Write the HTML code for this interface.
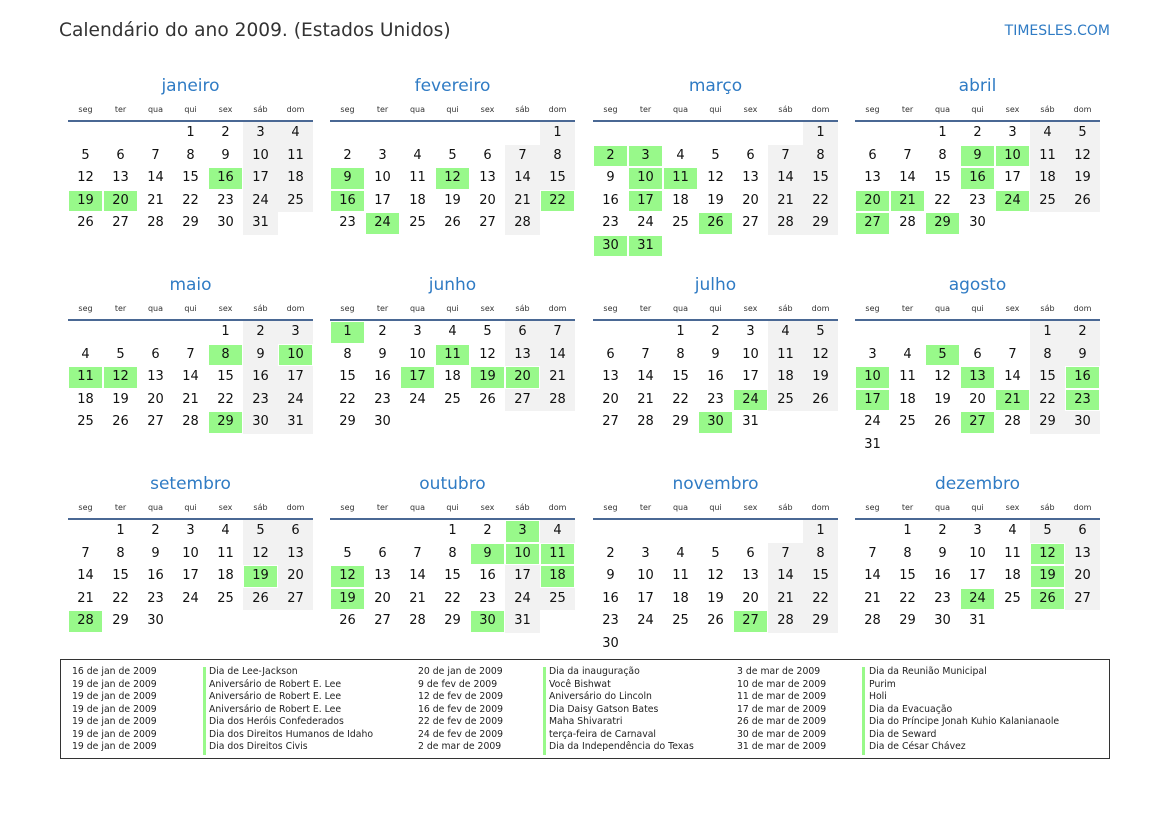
<!DOCTYPE html>
<html><head><meta charset="utf-8"><style>
body{margin:0;width:1169px;height:827px;background:#fff;font-family:"DejaVu Sans","Liberation Sans",sans-serif;position:relative;overflow:hidden}
.t{position:absolute;left:59px;top:20px;font-size:18.6px;color:#333}
.s{position:absolute;right:59px;top:23px;font-size:14px;color:#2f7bc4}
.m{position:absolute;width:245px}
.m h2{margin:0;height:26px;line-height:26px;text-align:center;font-weight:normal;font-size:17px;color:#2f7bc4}
.m .wd{display:flex;height:18px;line-height:18px;margin-top:2px;font-size:8px;color:#333}
.m .wd span{width:35px;text-align:center}
.m .ln{height:2px;background:#4a6894;margin-top:1px}
table{border-collapse:separate;border-spacing:0;table-layout:fixed;width:245px}
td{width:35px;height:22.5px;padding:0;text-align:center;font-size:13px;color:#111;line-height:22px}
td.w{background:#f2f2f2}
td.h{background:#98f98a;box-shadow:inset 0 0 0 1px #fff}
.lg{position:absolute;left:60px;top:659px;width:1048px;height:98px;border:1px solid #333}
.c{position:absolute;font-size:9.3px;color:#222;line-height:12.5px;top:6px;white-space:nowrap}
.b{position:absolute;top:7px;width:3px;background:#98f98a}
.b i{display:block;height:10.5px;margin-bottom:2px;background:#98f98a}
</style></head><body>
<div class="t">Calendário do ano 2009. (Estados Unidos)</div>
<div class="s">TIMESLES.COM</div>

<div class="m" style="left:68px;top:73px"><h2>janeiro</h2><div class="wd"><span>seg</span><span>ter</span><span>qua</span><span>qui</span><span>sex</span><span>sáb</span><span>dom</span></div><div class="ln"></div><table>
<tr><td></td><td></td><td></td><td>1</td><td>2</td><td class="w">3</td><td class="w">4</td></tr>
<tr><td>5</td><td>6</td><td>7</td><td>8</td><td>9</td><td class="w">10</td><td class="w">11</td></tr>
<tr><td>12</td><td>13</td><td>14</td><td>15</td><td class="h">16</td><td class="w">17</td><td class="w">18</td></tr>
<tr><td class="h">19</td><td class="h">20</td><td>21</td><td>22</td><td>23</td><td class="w">24</td><td class="w">25</td></tr>
<tr><td>26</td><td>27</td><td>28</td><td>29</td><td>30</td><td class="w">31</td><td></td></tr>
</table></div>

<div class="m" style="left:330px;top:73px"><h2>fevereiro</h2><div class="wd"><span>seg</span><span>ter</span><span>qua</span><span>qui</span><span>sex</span><span>sáb</span><span>dom</span></div><div class="ln"></div><table>
<tr><td></td><td></td><td></td><td></td><td></td><td></td><td class="w">1</td></tr>
<tr><td>2</td><td>3</td><td>4</td><td>5</td><td>6</td><td class="w">7</td><td class="w">8</td></tr>
<tr><td class="h">9</td><td>10</td><td>11</td><td class="h">12</td><td>13</td><td class="w">14</td><td class="w">15</td></tr>
<tr><td class="h">16</td><td>17</td><td>18</td><td>19</td><td>20</td><td class="w">21</td><td class="h">22</td></tr>
<tr><td>23</td><td class="h">24</td><td>25</td><td>26</td><td>27</td><td class="w">28</td><td></td></tr>
</table></div>

<div class="m" style="left:593px;top:73px"><h2>março</h2><div class="wd"><span>seg</span><span>ter</span><span>qua</span><span>qui</span><span>sex</span><span>sáb</span><span>dom</span></div><div class="ln"></div><table>
<tr><td></td><td></td><td></td><td></td><td></td><td></td><td class="w">1</td></tr>
<tr><td class="h">2</td><td class="h">3</td><td>4</td><td>5</td><td>6</td><td class="w">7</td><td class="w">8</td></tr>
<tr><td>9</td><td class="h">10</td><td class="h">11</td><td>12</td><td>13</td><td class="w">14</td><td class="w">15</td></tr>
<tr><td>16</td><td class="h">17</td><td>18</td><td>19</td><td>20</td><td class="w">21</td><td class="w">22</td></tr>
<tr><td>23</td><td>24</td><td>25</td><td class="h">26</td><td>27</td><td class="w">28</td><td class="w">29</td></tr>
<tr><td class="h">30</td><td class="h">31</td><td></td><td></td><td></td><td></td><td></td></tr>
</table></div>

<div class="m" style="left:855px;top:73px"><h2>abril</h2><div class="wd"><span>seg</span><span>ter</span><span>qua</span><span>qui</span><span>sex</span><span>sáb</span><span>dom</span></div><div class="ln"></div><table>
<tr><td></td><td></td><td>1</td><td>2</td><td>3</td><td class="w">4</td><td class="w">5</td></tr>
<tr><td>6</td><td>7</td><td>8</td><td class="h">9</td><td class="h">10</td><td class="w">11</td><td class="w">12</td></tr>
<tr><td>13</td><td>14</td><td>15</td><td class="h">16</td><td>17</td><td class="w">18</td><td class="w">19</td></tr>
<tr><td class="h">20</td><td class="h">21</td><td>22</td><td>23</td><td class="h">24</td><td class="w">25</td><td class="w">26</td></tr>
<tr><td class="h">27</td><td>28</td><td class="h">29</td><td>30</td><td></td><td></td><td></td></tr>
</table></div>

<div class="m" style="left:68px;top:272px"><h2>maio</h2><div class="wd"><span>seg</span><span>ter</span><span>qua</span><span>qui</span><span>sex</span><span>sáb</span><span>dom</span></div><div class="ln"></div><table>
<tr><td></td><td></td><td></td><td></td><td>1</td><td class="w">2</td><td class="w">3</td></tr>
<tr><td>4</td><td>5</td><td>6</td><td>7</td><td class="h">8</td><td class="w">9</td><td class="h">10</td></tr>
<tr><td class="h">11</td><td class="h">12</td><td>13</td><td>14</td><td>15</td><td class="w">16</td><td class="w">17</td></tr>
<tr><td>18</td><td>19</td><td>20</td><td>21</td><td>22</td><td class="w">23</td><td class="w">24</td></tr>
<tr><td>25</td><td>26</td><td>27</td><td>28</td><td class="h">29</td><td class="w">30</td><td class="w">31</td></tr>
</table></div>

<div class="m" style="left:330px;top:272px"><h2>junho</h2><div class="wd"><span>seg</span><span>ter</span><span>qua</span><span>qui</span><span>sex</span><span>sáb</span><span>dom</span></div><div class="ln"></div><table>
<tr><td class="h">1</td><td>2</td><td>3</td><td>4</td><td>5</td><td class="w">6</td><td class="w">7</td></tr>
<tr><td>8</td><td>9</td><td>10</td><td class="h">11</td><td>12</td><td class="w">13</td><td class="w">14</td></tr>
<tr><td>15</td><td>16</td><td class="h">17</td><td>18</td><td class="h">19</td><td class="h">20</td><td class="w">21</td></tr>
<tr><td>22</td><td>23</td><td>24</td><td>25</td><td>26</td><td class="w">27</td><td class="w">28</td></tr>
<tr><td>29</td><td>30</td><td></td><td></td><td></td><td></td><td></td></tr>
</table></div>

<div class="m" style="left:593px;top:272px"><h2>julho</h2><div class="wd"><span>seg</span><span>ter</span><span>qua</span><span>qui</span><span>sex</span><span>sáb</span><span>dom</span></div><div class="ln"></div><table>
<tr><td></td><td></td><td>1</td><td>2</td><td>3</td><td class="w">4</td><td class="w">5</td></tr>
<tr><td>6</td><td>7</td><td>8</td><td>9</td><td>10</td><td class="w">11</td><td class="w">12</td></tr>
<tr><td>13</td><td>14</td><td>15</td><td>16</td><td>17</td><td class="w">18</td><td class="w">19</td></tr>
<tr><td>20</td><td>21</td><td>22</td><td>23</td><td class="h">24</td><td class="w">25</td><td class="w">26</td></tr>
<tr><td>27</td><td>28</td><td>29</td><td class="h">30</td><td>31</td><td></td><td></td></tr>
</table></div>

<div class="m" style="left:855px;top:272px"><h2>agosto</h2><div class="wd"><span>seg</span><span>ter</span><span>qua</span><span>qui</span><span>sex</span><span>sáb</span><span>dom</span></div><div class="ln"></div><table>
<tr><td></td><td></td><td></td><td></td><td></td><td class="w">1</td><td class="w">2</td></tr>
<tr><td>3</td><td>4</td><td class="h">5</td><td>6</td><td>7</td><td class="w">8</td><td class="w">9</td></tr>
<tr><td class="h">10</td><td>11</td><td>12</td><td class="h">13</td><td>14</td><td class="w">15</td><td class="h">16</td></tr>
<tr><td class="h">17</td><td>18</td><td>19</td><td>20</td><td class="h">21</td><td class="w">22</td><td class="h">23</td></tr>
<tr><td>24</td><td>25</td><td>26</td><td class="h">27</td><td>28</td><td class="w">29</td><td class="w">30</td></tr>
<tr><td>31</td><td></td><td></td><td></td><td></td><td></td><td></td></tr>
</table></div>

<div class="m" style="left:68px;top:471px"><h2>setembro</h2><div class="wd"><span>seg</span><span>ter</span><span>qua</span><span>qui</span><span>sex</span><span>sáb</span><span>dom</span></div><div class="ln"></div><table>
<tr><td></td><td>1</td><td>2</td><td>3</td><td>4</td><td class="w">5</td><td class="w">6</td></tr>
<tr><td>7</td><td>8</td><td>9</td><td>10</td><td>11</td><td class="w">12</td><td class="w">13</td></tr>
<tr><td>14</td><td>15</td><td>16</td><td>17</td><td>18</td><td class="h">19</td><td class="w">20</td></tr>
<tr><td>21</td><td>22</td><td>23</td><td>24</td><td>25</td><td class="w">26</td><td class="w">27</td></tr>
<tr><td class="h">28</td><td>29</td><td>30</td><td></td><td></td><td></td><td></td></tr>
</table></div>

<div class="m" style="left:330px;top:471px"><h2>outubro</h2><div class="wd"><span>seg</span><span>ter</span><span>qua</span><span>qui</span><span>sex</span><span>sáb</span><span>dom</span></div><div class="ln"></div><table>
<tr><td></td><td></td><td></td><td>1</td><td>2</td><td class="h">3</td><td class="w">4</td></tr>
<tr><td>5</td><td>6</td><td>7</td><td>8</td><td class="h">9</td><td class="h">10</td><td class="h">11</td></tr>
<tr><td class="h">12</td><td>13</td><td>14</td><td>15</td><td>16</td><td class="w">17</td><td class="h">18</td></tr>
<tr><td class="h">19</td><td>20</td><td>21</td><td>22</td><td>23</td><td class="w">24</td><td class="w">25</td></tr>
<tr><td>26</td><td>27</td><td>28</td><td>29</td><td class="h">30</td><td class="w">31</td><td></td></tr>
</table></div>

<div class="m" style="left:593px;top:471px"><h2>novembro</h2><div class="wd"><span>seg</span><span>ter</span><span>qua</span><span>qui</span><span>sex</span><span>sáb</span><span>dom</span></div><div class="ln"></div><table>
<tr><td></td><td></td><td></td><td></td><td></td><td></td><td class="w">1</td></tr>
<tr><td>2</td><td>3</td><td>4</td><td>5</td><td>6</td><td class="w">7</td><td class="w">8</td></tr>
<tr><td>9</td><td>10</td><td>11</td><td>12</td><td>13</td><td class="w">14</td><td class="w">15</td></tr>
<tr><td>16</td><td>17</td><td>18</td><td>19</td><td>20</td><td class="w">21</td><td class="w">22</td></tr>
<tr><td>23</td><td>24</td><td>25</td><td>26</td><td class="h">27</td><td class="w">28</td><td class="w">29</td></tr>
<tr><td>30</td><td></td><td></td><td></td><td></td><td></td><td></td></tr>
</table></div>

<div class="m" style="left:855px;top:471px"><h2>dezembro</h2><div class="wd"><span>seg</span><span>ter</span><span>qua</span><span>qui</span><span>sex</span><span>sáb</span><span>dom</span></div><div class="ln"></div><table>
<tr><td></td><td>1</td><td>2</td><td>3</td><td>4</td><td class="w">5</td><td class="w">6</td></tr>
<tr><td>7</td><td>8</td><td>9</td><td>10</td><td>11</td><td class="h">12</td><td class="w">13</td></tr>
<tr><td>14</td><td>15</td><td>16</td><td>17</td><td>18</td><td class="h">19</td><td class="w">20</td></tr>
<tr><td>21</td><td>22</td><td>23</td><td class="h">24</td><td>25</td><td class="h">26</td><td class="w">27</td></tr>
<tr><td>28</td><td>29</td><td>30</td><td>31</td><td></td><td></td><td></td></tr>
</table></div>

<div class="lg">
<div class="c" style="left:11px">16 de jan de 2009<br>19 de jan de 2009<br>19 de jan de 2009<br>19 de jan de 2009<br>19 de jan de 2009<br>19 de jan de 2009<br>19 de jan de 2009</div>
<div class="b" style="left:142px"><i></i><i></i><i></i><i></i><i></i><i></i><i></i></div>
<div class="c" style="left:148px">Dia de Lee-Jackson<br>Aniversário de Robert E. Lee<br>Aniversário de Robert E. Lee<br>Aniversário de Robert E. Lee<br>Dia dos Heróis Confederados<br>Dia dos Direitos Humanos de Idaho<br>Dia dos Direitos Civis</div>
<div class="c" style="left:357px">20 de jan de 2009<br>9 de fev de 2009<br>12 de fev de 2009<br>16 de fev de 2009<br>22 de fev de 2009<br>24 de fev de 2009<br>2 de mar de 2009</div>
<div class="b" style="left:482px"><i></i><i></i><i></i><i></i><i></i><i></i><i></i></div>
<div class="c" style="left:488px">Dia da inauguração<br>Você Bishwat<br>Aniversário do Lincoln<br>Dia Daisy Gatson Bates<br>Maha Shivaratri<br>terça-feira de Carnaval<br>Dia da Independência do Texas</div>
<div class="c" style="left:676px">3 de mar de 2009<br>10 de mar de 2009<br>11 de mar de 2009<br>17 de mar de 2009<br>26 de mar de 2009<br>30 de mar de 2009<br>31 de mar de 2009</div>
<div class="b" style="left:801px"><i></i><i></i><i></i><i></i><i></i><i></i><i></i></div>
<div class="c" style="left:808px">Dia da Reunião Municipal<br>Purim<br>Holi<br>Dia da Evacuação<br>Dia do Príncipe Jonah Kuhio Kalanianaole<br>Dia de Seward<br>Dia de César Chávez</div>
</div>
</body></html>
